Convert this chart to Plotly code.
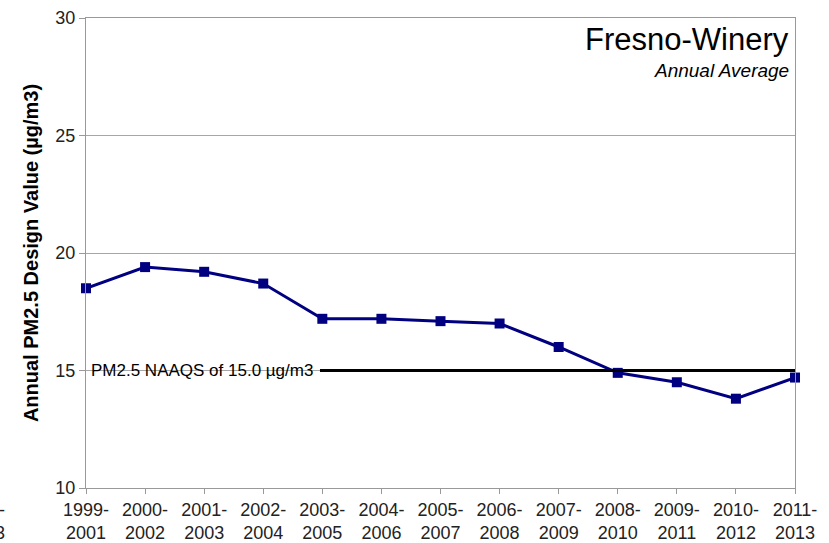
import plotly.graph_objects as go

periods = ["1999-<br>2001", "2000-<br>2002", "2001-<br>2003", "2002-<br>2004", "2003-<br>2005",
           "2004-<br>2006", "2005-<br>2007", "2006-<br>2008", "2007-<br>2009", "2008-<br>2010",
           "2009-<br>2011", "2010-<br>2012", "2011-<br>2013"]
design_values = [18.5, 19.4, 19.2, 18.7, 17.2, 17.2, 17.1, 17.0, 16.0, 14.9, 14.5, 13.8, 14.7]
naaqs = 15.0
y_ticks = [10, 15, 20, 25, 30]

FONT = "Liberation Sans, Arial, sans-serif"

fig = go.Figure()
fig.add_trace(go.Scatter(
    x=list(range(len(periods))), y=design_values, mode="lines+markers",
    line=dict(color="#000080", width=3),
    marker=dict(symbol="square", size=10, color="#000080"),
    cliponaxis=False, showlegend=False,
))

fig.add_shape(type="line", xref="x", yref="y", x0=3.96, x1=len(periods) - 1,
              y0=naaqs, y1=naaqs, line=dict(color="black", width=3))

fig.add_annotation(xref="paper", yref="y", x=0.004, y=naaqs, xanchor="left", yanchor="middle",
                   text="PM2.5 NAAQS of 15.0 µg/m3", showarrow=False,
                   font=dict(family=FONT, size=17, color="black"))
fig.add_annotation(xref="paper", yref="paper", x=0.994, y=0.995, xanchor="right", yanchor="top",
                   text="Fresno-Winery", showarrow=False,
                   font=dict(family=FONT, size=31, color="black"))
fig.add_annotation(xref="paper", yref="paper", x=0.994, y=0.915, xanchor="right", yanchor="top",
                   text="<i>Annual Average</i>", showarrow=False,
                   font=dict(family=FONT, size=19, color="black"))
fig.add_annotation(xref="paper", yref="paper", x=-0.111, y=-0.022, xanchor="right", yanchor="top",
                   text="-<br>3", showarrow=False, align="right",
                   font=dict(family=FONT, size=18, color="#222"))

fig.update_xaxes(
    tickmode="array", tickvals=list(range(len(periods))), ticktext=periods,
    range=[0, len(periods) - 1], showgrid=False, showline=True, linecolor="#999", linewidth=1,
    mirror=True, ticks="outside", ticklen=5, tickcolor="#999", automargin=False,
    tickfont=dict(family=FONT, size=18, color="#222"), zeroline=False,
)
fig.update_yaxes(
    range=[10, 30], tickvals=y_ticks, showgrid=True, gridcolor="#a6a6a6", gridwidth=1,
    showline=True, linecolor="#999", linewidth=1, mirror=True, automargin=False,
    ticks="outside", ticklen=6, tickcolor="#999",
    tickfont=dict(family=FONT, size=18, color="#222"), zeroline=False,
    title=dict(text="<b>Annual PM2.5 Design Value (µg/m3)</b>", standoff=11,
               font=dict(family=FONT, size=20, color="black")),
)
fig.update_layout(
    width=829, height=543, margin=dict(l=86, r=34, t=18, b=55),
    paper_bgcolor="white", plot_bgcolor="white",
)
fig.write_html("out.html", config={"displayModeBar": False},
               post_script="document.body.style.margin='0';document.body.style.overflow='hidden';")
